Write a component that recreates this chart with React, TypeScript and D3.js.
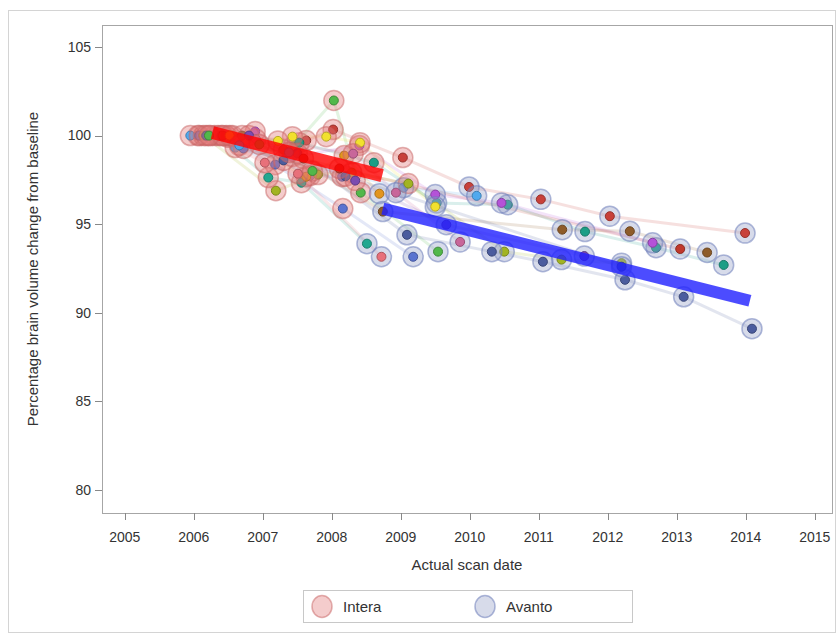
import React from "react";
import * as d3 from "d3";

type Pt = [number, number, "I" | "A"];
interface Subject { color: string; pts: Pt[] }

const xTicks = [2005, 2006, 2007, 2008, 2009, 2010, 2011, 2012, 2013, 2014, 2015];
const yTicks = [80, 85, 90, 95, 100, 105];
const scanners = ["Intera", "Avanto"];

const subjects: Subject[] = [
  { color: "#c8413a", pts: [[2006.06, 100, "I"], [2007.63, 99.72, "I"], [2008.02, 100.34, "I"], [2009.03, 98.76, "I"], [2009.99, 97.1, "A"], [2011.03, 96.4, "A"], [2012.03, 95.45, "A"], [2013.99, 94.5, "A"]] },
  { color: "#52b84a", pts: [[2006.3, 100, "I"], [2007.44, 99.38, "I"], [2008.03, 101.98, "I"], [2008.42, 96.78, "I"], [2009.54, 93.45, "A"]] },
  { color: "#4fa9ee", pts: [[2005.95, 100, "I"], [2006.6, 99.32, "I"], [2009.04, 97.06, "A"], [2010.1, 96.6, "A"]] },
  { color: "#5a73d0", pts: [[2006.08, 100, "I"], [2006.72, 99.27, "I"], [2007.18, 98.36, "I"], [2008.16, 95.88, "I"], [2009.18, 93.16, "A"]] },
  { color: "#5a73d0", pts: [[2006.5, 99.9, "I"], [2007.69, 97.74, "I"], [2008.15, 97.68, "I"]] },
  { color: "#a2b422", pts: [[2006.14, 100, "I"], [2007.19, 96.89, "I"], [2007.8, 97.8, "I"], [2008.29, 97.91, "I"], [2009.11, 97.29, "I"], [2010.5, 93.45, "A"], [2011.33, 93.0, "A"], [2012.2, 92.8, "A"]] },
  { color: "#1b9e86", pts: [[2006.47, 100, "I"], [2007.53, 99.6, "I"], [2008.61, 98.47, "I"], [2009.52, 96.2, "A"], [2010.55, 96.1, "A"], [2011.67, 94.58, "A"], [2012.7, 93.67, "A"], [2013.68, 92.7, "A"]] },
  { color: "#22a890", pts: [[2006.35, 100, "I"], [2007.08, 97.63, "I"], [2007.56, 97.34, "I"], [2008.51, 93.9, "A"]] },
  { color: "#b452d8", pts: [[2006.89, 100.23, "I"], [2007.43, 98.81, "I"], [2008.4, 99.44, "I"], [2009.5, 96.67, "A"], [2010.46, 96.2, "A"], [2012.65, 93.95, "A"]] },
  { color: "#f2e12e", pts: [[2007.43, 99.94, "I"], [2007.92, 99.94, "I"], [2008.41, 99.6, "I"], [2009.5, 95.99, "A"]] },
  { color: "#e3951e", pts: [[2006.56, 100, "I"], [2007.63, 97.68, "I"], [2008.18, 98.87, "I"], [2008.69, 96.72, "A"]] },
  { color: "#e8707a", pts: [[2006.24, 100, "I"], [2007.03, 98.47, "I"], [2007.51, 97.85, "I"], [2008.72, 93.16, "A"]] },
  { color: "#8e5c2a", pts: [[2006.7, 100, "I"], [2007.3, 99.2, "I"], [2008.74, 95.71, "A"], [2011.34, 94.69, "A"], [2012.32, 94.6, "A"], [2013.44, 93.4, "A"]] },
  { color: "#4b5c9e", pts: [[2006.4, 100, "I"], [2007.5, 99.0, "I"], [2009.09, 94.4, "A"], [2010.32, 93.45, "A"], [2011.06, 92.88, "A"], [2012.25, 91.86, "A"], [2013.1, 90.9, "A"], [2014.09, 89.1, "A"]] },
  { color: "#4b5c9e", pts: [[2006.18, 100, "I"], [2007.3, 98.6, "I"], [2008.2, 97.7, "I"], [2012.2, 92.6, "A"]] },
  { color: "#c8669a", pts: [[2006.9, 99.8, "I"], [2008.31, 98.98, "I"], [2008.93, 96.78, "A"], [2009.86, 94.0, "A"]] },
  { color: "#7b4bb0", pts: [[2006.8, 100, "I"], [2008.34, 97.46, "I"], [2009.66, 94.97, "A"], [2011.66, 93.2, "A"]] },
  { color: "#c0392b", pts: [[2006.42, 100, "I"], [2007.59, 98.7, "I"], [2008.11, 98.14, "I"], [2013.05, 93.6, "A"]] },
  { color: "#52b84a", pts: [[2006.22, 100, "I"], [2006.95, 99.5, "I"], [2007.72, 98.0, "I"]] },
  { color: "#f2e12e", pts: [[2006.52, 100, "I"], [2007.22, 99.7, "I"]] },
  { color: "#4fa9ee", pts: [[2006.66, 99.45, "I"], [2007.38, 99.05, "I"]] },
];

// fitted regression segments per scanner: [x0, y0, x1, y1]
const fitIntera = [2006.27, 100.17, 2008.73, 97.74];
const fitAvanto = [2008.74, 95.88, 2014.06, 90.68];

const W = 837, H = 634;
const L = 102, R = 832, T = 25, B = 513;

export default function App() {
  const x = d3.scaleLinear().domain([2004.67, 2015.25]).range([L, R]);
  const y = d3.scaleLinear().domain([78.7, 106.24]).range([B, T]);
  const line = d3.line<Pt>().x((d) => x(d[0])).y((d) => y(d[1]));
  const font = "'Liberation Sans', Arial, sans-serif";
  const haloFill: Record<string, string> = { I: "rgba(225,120,120,0.38)", A: "rgba(150,160,200,0.38)" };
  const haloStroke: Record<string, string> = { I: "rgba(200,100,100,0.5)", A: "rgba(110,125,185,0.55)" };
  const all: { s: Subject; p: Pt }[] = [];
  subjects.forEach((s) => s.pts.forEach((p) => all.push({ s, p })));

  return (
    <svg width={W} height={H} style={{ position: "absolute", left: 0, top: 0, fontFamily: font }}>
      <rect x={8.5} y={10.5} width={827} height={622} fill="white" stroke="#d4d4d4" />
      <rect x={L + 0.5} y={T + 0.5} width={R - L} height={B - T} fill="white" stroke="#a6a6a6" />
      {yTicks.map((t) => (
        <g key={"y" + t}>
          <line x1={L - 7} x2={L} y1={Math.round(y(t)) + 0.5} y2={Math.round(y(t)) + 0.5} stroke="#888" />
          <text x={L - 11} y={y(t)} dy="0.35em" textAnchor="end" fontSize={14} fill="#333">{t}</text>
        </g>
      ))}
      {xTicks.map((t) => (
        <g key={"x" + t}>
          <line x1={Math.round(x(t)) + 0.5} x2={Math.round(x(t)) + 0.5} y1={B} y2={B + 7} stroke="#888" />
          <text x={x(t)} y={B + 29} textAnchor="middle" fontSize={14} fill="#333">{t}</text>
        </g>
      ))}
      <text transform={`translate(38,${(T + B) / 2}) rotate(-90)`} textAnchor="middle" fontSize={15} fill="#333">
        Percentage brain volume change from baseline
      </text>
      <text x={(L + R) / 2} y={570} textAnchor="middle" fontSize={15} fill="#333">Actual scan date</text>

      {subjects.map((s, i) => (
        <path key={"l" + i} d={line(s.pts) || ""} fill="none" stroke={s.color} strokeOpacity={0.16} strokeWidth={3} />
      ))}
      {all.map(({ s, p }, i) => (
        <g key={"p" + i}>
          <circle cx={x(p[0])} cy={y(p[1])} r={10} fill={haloFill[p[2]]} stroke={haloStroke[p[2]]} strokeWidth={1.5} />
          <circle cx={x(p[0])} cy={y(p[1])} r={4.5} fill={s.color} stroke={d3.color(s.color)!.darker(0.8).toString()} strokeWidth={1} />
        </g>
      ))}
      <line x1={x(fitIntera[0])} y1={y(fitIntera[1])} x2={x(fitIntera[2])} y2={y(fitIntera[3])} stroke="#ff0000" strokeOpacity={0.8} strokeWidth={13} />
      <line x1={x(fitAvanto[0])} y1={y(fitAvanto[1])} x2={x(fitAvanto[2])} y2={y(fitAvanto[3])} stroke="#1f1fff" strokeOpacity={0.8} strokeWidth={12} />

      <rect x={303.5} y={590.5} width={329} height={32} fill="white" stroke="#c8c8c8" />
      {scanners.map((n, i) => {
        const cx = 322 + i * 163;
        const k = i === 0 ? "I" : "A";
        return (
          <g key={n}>
            <ellipse cx={cx} cy={606.5} rx={10} ry={11} fill={haloFill[k]} stroke={haloStroke[k]} strokeWidth={1.5} />
            <text x={cx + 21} y={606.5} dy="0.35em" fontSize={15} fill="#333">{n}</text>
          </g>
        );
      })}
    </svg>
  );
}
